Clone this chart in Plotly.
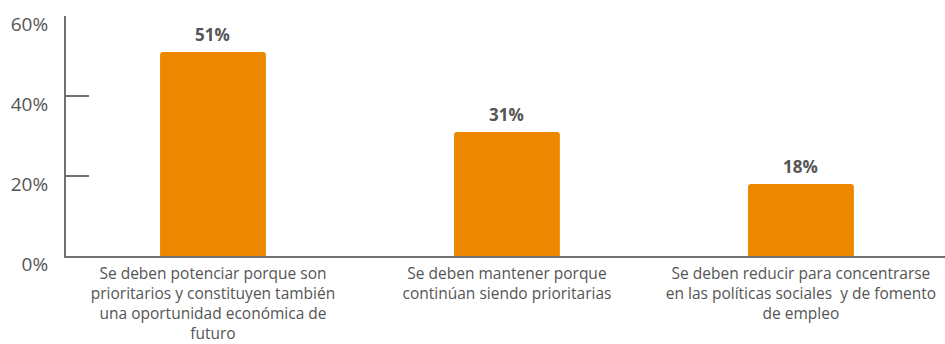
import plotly.graph_objects as go

# Survey answers and their shares (%)
categories = ["potenciar", "mantener", "reducir"]
category_lines = [
    ["Se deben potenciar porque son", "prioritarios y constituyen también",
     "una oportunidad económica de", "futuro"],
    ["Se deben mantener porque", "continúan siendo prioritarias"],
    ["Se deben reducir para concentrarse", "en las políticas sociales  y de fomento",
     "de empleo"],
]
shares = [51, 31, 18]
value_labels = ["51%", "31%", "18%"]
y_ticks = [0, 20, 40, 60]
y_tick_labels = ["0%", "20%", "40%", "60%"]

BAR = "#ED8700"
AXIS = "#707070"
FONT = "Open Sans"

category_labels = ["<br>".join(lines) for lines in category_lines]

fig = go.Figure(
    go.Bar(
        x=categories,
        y=shares,
        marker=dict(color=BAR, line=dict(width=0)),
        width=0.36,
        hoverinfo="skip",
    )
)

for cat, val, lab in zip(categories, shares, value_labels):
    fig.add_annotation(
        x=cat, y=val, text=f"<b>{lab}</b>", showarrow=False,
        yanchor="bottom", yshift=4,
        font=dict(family=FONT, size=17, color="#555555"),
    )

fig.update_layout(
    width=945, height=344,
    margin=dict(l=66, r=0, t=16, b=88),
    paper_bgcolor="white", plot_bgcolor="white",
    showlegend=False,
    barcornerradius=3,
    xaxis=dict(
        type="category",
        range=[-0.5, 2.49],
        tickvals=categories,
        ticktext=category_labels,
        tickfont=dict(family=FONT, size=15.5, color="#555555"),
        showline=True, linecolor=AXIS, linewidth=2,
        ticks="", showgrid=False, zeroline=False,
        ticklabelstandoff=2,
    ),
    yaxis=dict(
        range=[0, 60],
        tickvals=y_ticks,
        ticktext=y_tick_labels,
        tickfont=dict(family=FONT, size=19, color="#555555"),
        showline=True, linecolor=AXIS, linewidth=2,
        ticks="inside", ticklen=23, tickwidth=2, tickcolor=AXIS,
        showgrid=False, zeroline=False,
        ticklabelstandoff=12,
        ticklabelshift=8,
    ),
)

fig.write_html("out.html")
